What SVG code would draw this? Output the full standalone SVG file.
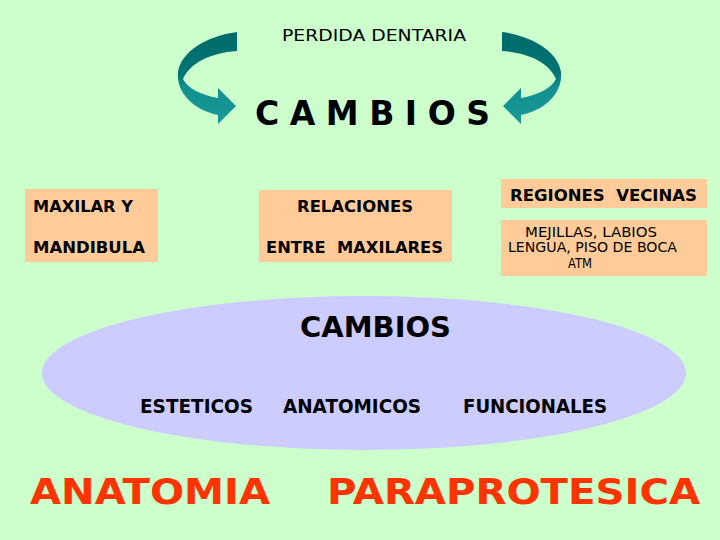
<svg xmlns="http://www.w3.org/2000/svg" width="720" height="540" viewBox="0 0 720 540">
<defs>
<linearGradient id="tealGrad" x1="0" y1="0" x2="0" y2="1">
<stop offset="0" stop-color="#006a6a"/>
<stop offset="0.45" stop-color="#007575"/>
<stop offset="0.6" stop-color="#128f8f"/>
<stop offset="1" stop-color="#1a9999"/>
</linearGradient>
<path id="curlArrow" d="M237,32 C206,36 181,52 178,72 C176,93 194,110 218,115 L218,124 L236,106 L218,88 L218,98 C201,95 187,88 183,79 C190,63 210,53 237,51 Z"/>
</defs>
<style>
.bg{fill:#ccffcc}
.box{fill:#ffcc99}
.ell{fill:#ccccff}
.arrow{fill:url(#tealGrad)}
.t{font-family:"DejaVu Sans","Verdana",sans-serif;fill:#000;white-space:pre}
.b{font-weight:bold}
.red{font-family:"DejaVu Sans","Verdana",sans-serif;font-weight:bold;fill:#ff3300}
</style>
<rect class="bg" x="0" y="0" width="720" height="540"/>

<g id="connectors">
<use href="#curlArrow" class="arrow"/>
<use href="#curlArrow" class="arrow" transform="translate(739,0) scale(-1,1)"/>
</g>

<g id="perdida">
<text class="t" x="282" y="41" font-size="15" textLength="184" lengthAdjust="spacingAndGlyphs">PERDIDA DENTARIA</text>
</g>

<g id="cambios-top">
<text class="t b" x="255" y="125" font-size="33" textLength="235" lengthAdjust="spacing">C A M B I O S</text>
</g>

<g id="maxilar">
<rect class="box" x="25" y="189" width="133" height="73"/>
<text class="t b" x="33" y="212" font-size="15" textLength="100" lengthAdjust="spacingAndGlyphs">MAXILAR Y</text>
<text class="t b" x="33" y="253" font-size="15" textLength="112" lengthAdjust="spacingAndGlyphs">MANDIBULA</text>
</g>

<g id="relaciones">
<rect class="box" x="259" y="190" width="193" height="72"/>
<text class="t b" x="297" y="212" font-size="15" textLength="116" lengthAdjust="spacingAndGlyphs">RELACIONES</text>
<text class="t b" x="266" y="253" font-size="15" textLength="177" lengthAdjust="spacingAndGlyphs">ENTRE  MAXILARES</text>
</g>

<g id="regiones">
<rect class="box" x="501" y="179" width="206" height="29"/>
<text class="t b" x="510" y="201" font-size="16" textLength="187" lengthAdjust="spacingAndGlyphs">REGIONES  VECINAS</text>
</g>

<g id="mejillas">
<rect class="box" x="501" y="220" width="206" height="56"/>
<text class="t" x="525" y="237" font-size="13.5" textLength="132" lengthAdjust="spacingAndGlyphs">MEJILLAS, LABIOS</text>
<text class="t" x="508" y="252" font-size="13.5" textLength="169" lengthAdjust="spacingAndGlyphs">LENGUA, PISO DE BOCA</text>
<text class="t" x="568" y="268" font-size="13.5" textLength="24" lengthAdjust="spacingAndGlyphs">ATM</text>
</g>

<g id="cambios-ellipse">
<ellipse class="ell" cx="364" cy="373" rx="322" ry="77"/>
<text class="t b" x="300" y="337" font-size="29" textLength="151" lengthAdjust="spacingAndGlyphs">CAMBIOS</text>
<text class="t b" x="140" y="413" font-size="20" textLength="113" lengthAdjust="spacingAndGlyphs">ESTETICOS</text>
<text class="t b" x="283" y="413" font-size="20" textLength="138" lengthAdjust="spacingAndGlyphs">ANATOMICOS</text>
<text class="t b" x="463" y="413" font-size="20" textLength="144" lengthAdjust="spacingAndGlyphs">FUNCIONALES</text>
</g>

<g id="anatomia">
<text class="red" x="30" y="504" font-size="35" textLength="240" lengthAdjust="spacingAndGlyphs">ANATOMIA</text>
</g>

<g id="paraprotesica">
<text class="red" x="327" y="504" font-size="36" textLength="373" lengthAdjust="spacingAndGlyphs">PARAPROTESICA</text>
</g>
</svg>
